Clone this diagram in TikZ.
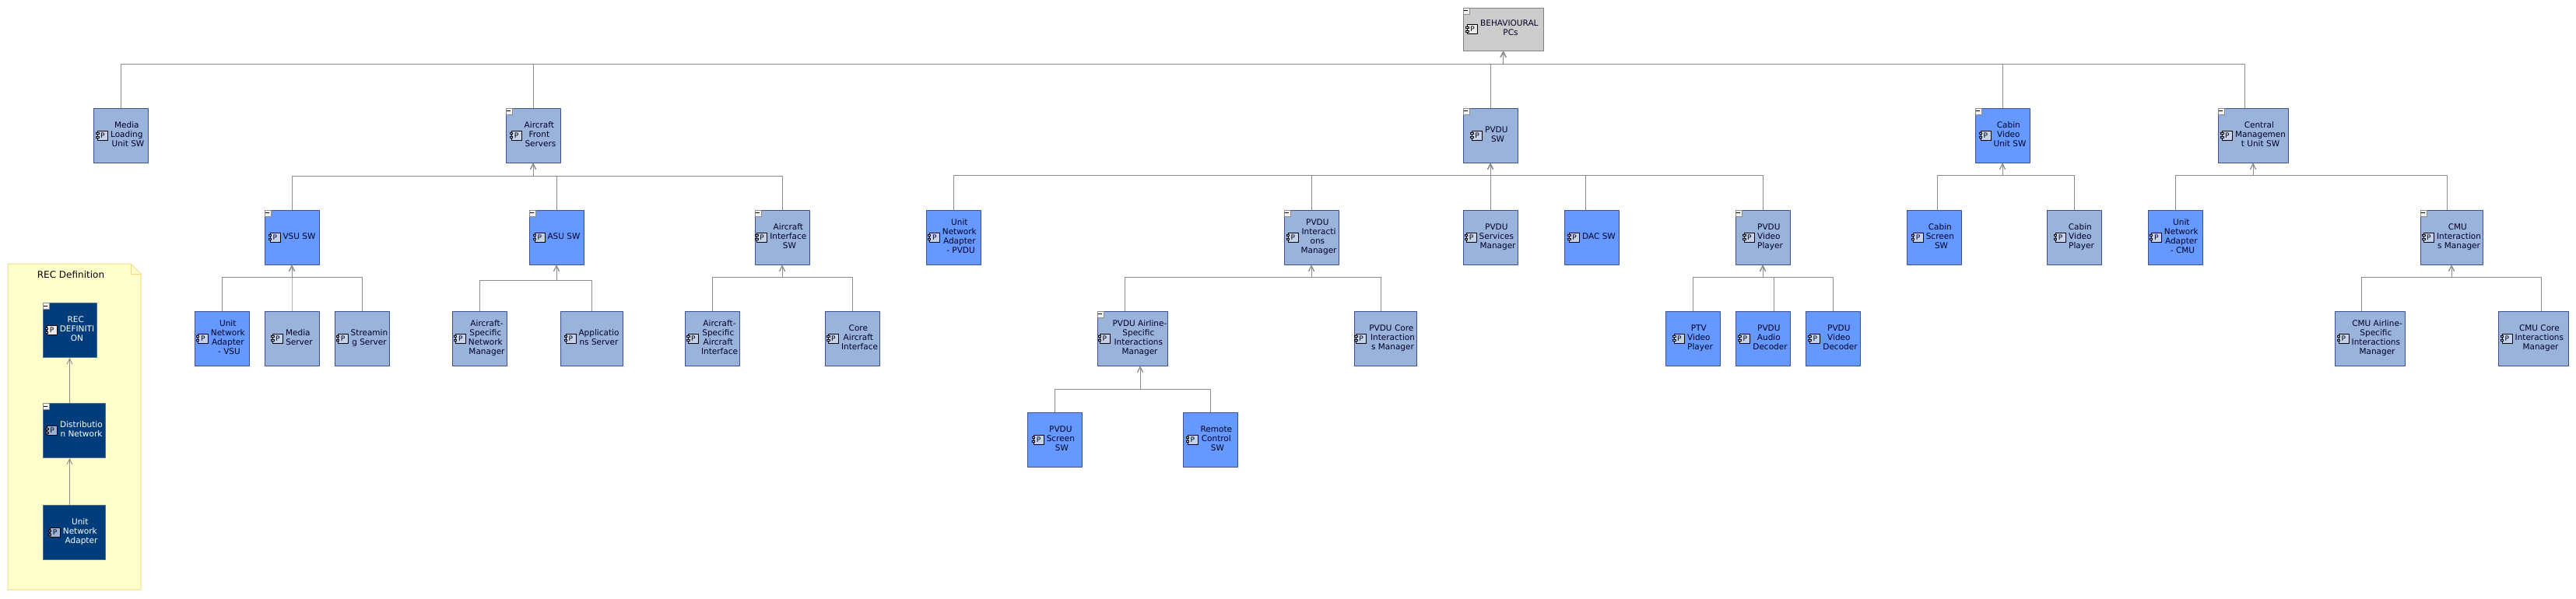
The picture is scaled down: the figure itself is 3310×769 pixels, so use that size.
\documentclass[tikz,border=0pt]{standalone}
\usepackage{fontspec}
\setmainfont{DejaVu Sans}
\usetikzlibrary{arrows.meta}

\definecolor{lightsw}{HTML}{99B3DB}
\definecolor{brightsw}{HTML}{6699FF}
\definecolor{recsw}{HTML}{003D7A}
\definecolor{swedge}{HTML}{3F4F8F}
\definecolor{recedge}{HTML}{4F6F8F}
\definecolor{linkgray}{HTML}{8C8C8C}
\definecolor{notefill}{HTML}{FFFFCC}
\definecolor{noteedge}{HTML}{F7D98C}
\definecolor{badgefill}{HTML}{C4D3EE}

\tikzset{
    box/.style={rectangle, draw, line width=1pt, inner sep=0pt, minimum width=70pt, minimum height=70pt,
        text=black!85!blue, font=\fontsize{10.5}{12}\selectfont},
    lightbox/.style={box, fill=lightsw, draw=swedge},
    brightbox/.style={box, fill=brightsw, draw=swedge},
    recbox/.style={box, fill=recsw, draw=recedge, text=white},
    graybox/.style={box, fill=black!20, draw=black!50},
    every edge/.style={draw=linkgray, line width=1pt},
    tree/.style={to path={(\tikztostart) |- (#1) -- (\tikztotarget)}},
    badge/.style={rectangle, draw=black, line width=.6pt, inner sep=0pt, minimum width=13pt, minimum height=12pt,
        anchor=west, text=black, font=\fontsize{9}{10}\selectfont},
    nub/.style={draw=black, line width=.5pt, inner sep=0pt, minimum width=3.5pt, minimum height=2pt},
    foldbtn/.style={rectangle, draw=black!45, fill=black!5, line width=.7pt, inner sep=0pt, minimum size=8pt,
        anchor=north west, path picture={\draw [black, line width=1pt]
            ([xshift=1.5pt]path picture bounding box.west) -- ([xshift=-1.5pt]path picture bounding box.east);}}
}

\newcommand{\lbl}[1]{\hspace*{19pt}\begin{tabular}{@{}c@{}}#1\end{tabular}}
\newcommand{\brk}{\ \null\\}
\newcommand{\pbadge}[2][badgefill]{%
    \node [badge, fill=#1] (#2-p) at ([xshift=2pt]#2.text |- #2.center) {P};
    \node [nub, fill=#1] (#2-a) at ([yshift=2.5pt]#2-p.west) {};
    \node [nub, fill=#1] (#2-b) at ([yshift=-2.5pt]#2-p.west) {};
}
\newcommand{\fold}[1]{\node [foldbtn] (#1-f) at (#1.north west) {};}

\begin{document}
\begin{tikzpicture}[x=1pt, y=-1pt, >={Straight Barb[length=7pt,width=7pt]}, line join=round]
    \useasboundingbox (0,0) rectangle (3310,769);

    % Nodes, top
    \node [graybox, minimum width=103pt, minimum height=55pt] (root) at (1931.5,37.5) {\lbl{BEHAVIOURAL\brk PCs}};

    % Nodes, first row
    \node [lightbox] (media) at (155,174) {\lbl{Media\brk Loading\brk Unit SW}};
    \node [lightbox] (afs) [node distance=530pt, right of=media] {\lbl{Aircraft\brk Front\brk Servers}};
    \node [lightbox] (pvdu) [node distance=1230pt, right of=afs] {\lbl{PVDU\brk SW}};
    \node [brightbox] (cabin) [node distance=658pt, right of=pvdu] {\lbl{Cabin\brk Video\brk Unit SW}};
    \node [lightbox, minimum width=90pt] (central) [node distance=322pt, right of=cabin] {\lbl{Central\brk Managemen\\t Unit SW}};

    % Nodes, second row
    \node [brightbox] (vsu) at (375,305) {\lbl{VSU SW}};
    \node [brightbox] (asu) [node distance=340pt, right of=vsu] {\lbl{ASU SW}};
    \node [lightbox] (aif) [node distance=290pt, right of=asu] {\lbl{Aircraft\brk Interface\brk SW}};
    \node [brightbox] (unapvdu) [node distance=220pt, right of=aif] {\lbl{Unit\brk Network\brk Adapter\brk - PVDU}};
    \node [lightbox] (pim) [node distance=460pt, right of=unapvdu] {\lbl{PVDU\brk Interacti\\ons\brk Manager}};
    \node [lightbox] (psm) [node distance=230pt, right of=pim] {\lbl{PVDU\brk Services\brk Manager}};
    \node [brightbox] (dac) [node distance=130pt, right of=psm] {\lbl{DAC SW}};
    \node [lightbox] (pvp) [node distance=220pt, right of=dac] {\lbl{PVDU\brk Video\brk Player}};
    \node [brightbox] (csc) [node distance=220pt, right of=pvp] {\lbl{Cabin\brk Screen\brk SW}};
    \node [lightbox] (cvp) [node distance=180pt, right of=csc] {\lbl{Cabin\brk Video\brk Player}};
    \node [brightbox] (unacmu) [node distance=130pt, right of=cvp] {\lbl{Unit\brk Network\brk Adapter\brk - CMU}};
    \node [lightbox, minimum width=80pt] (cim) [node distance=355pt, right of=unacmu] {\lbl{CMU\brk Interaction\\s Manager}};

    % Nodes, third row
    \node [brightbox] (unavsu) at (285,435) {\lbl{Unit\brk Network\brk Adapter\brk - VSU}};
    \node [lightbox] (mserv) [node distance=90pt, right of=unavsu] {\lbl{Media\brk Server}};
    \node [lightbox] (sserv) [node distance=90pt, right of=mserv] {\lbl{Streamin\\g Server}};
    \node [lightbox] (asnm) [node distance=151pt, right of=sserv] {\lbl{Aircraft-\\Specific\brk Network\brk Manager}};
    \node [lightbox, minimum width=80pt] (apps) [node distance=144pt, right of=asnm] {\lbl{Applicatio\\ns Server}};
    \node [lightbox] (asai) [node distance=155pt, right of=apps] {\lbl{Aircraft-\\Specific\brk Aircraft\brk Interface}};
    \node [lightbox] (cai) [node distance=180pt, right of=asai] {\lbl{Core\brk Aircraft\brk Interface}};
    \node [lightbox, minimum width=90pt] (pais) [node distance=360pt, right of=cai] {\lbl{PVDU Airline-\\Specific\brk Interactions\brk Manager}};
    \node [lightbox, minimum width=80pt] (pcim) [node distance=325pt, right of=pais] {\lbl{PVDU Core\brk Interaction\\s Manager}};
    \node [brightbox] (ptv) [node distance=395pt, right of=pcim] {\lbl{PTV\brk Video\brk Player}};
    \node [brightbox] (aud) [node distance=90pt, right of=ptv] {\lbl{PVDU\brk Audio\brk Decoder}};
    \node [brightbox] (dec) [node distance=90pt, right of=aud] {\lbl{PVDU\brk Video\brk Decoder}};
    \node [lightbox, minimum width=90pt] (cais) [node distance=690pt, right of=dec] {\lbl{CMU Airline-\\Specific\brk Interactions\brk Manager}};
    \node [lightbox, minimum width=90pt] (ccim) [node distance=210pt, right of=cais] {\lbl{CMU Core\brk Interactions\brk Manager}};

    % Nodes, fourth row
    \node [brightbox] (pss) at (1355,565) {\lbl{PVDU\brk Screen\brk SW}};
    \node [brightbox] (rcs) [node distance=200pt, right of=pss] {\lbl{Remote\brk Control\brk SW}};

    % Note with its nodes
    \draw [draw=noteedge, fill=notefill, line width=1pt] (10,339) -- (168,339) -- (181,352) -- (181,758) -- (10,758) -- cycle;
    \draw [draw=noteedge, line width=1pt] (168,339) -- (168,352) -- (181,352);
    \node [text=black, font=\fontsize{12}{14}\selectfont] (rectitle) at (91,353) {REC Definition};
    \node [recbox, minimum width=69pt] (rec) at (89.5,424.5) {\lbl{REC\brk DEFINITI\\ON}};
    \node [recbox, minimum width=80pt] (dist) at (95,553.5) {\lbl{Distributio\\n Network}};
    \node [recbox, minimum width=80pt] (una) at (95,684.5) {\lbl{Unit\brk Network\brk Adapter}};

    % Icons
    \pbadge[black!8]{root}
    \pbadge{media}
    \pbadge{afs}
    \pbadge{pvdu}
    \pbadge{cabin}
    \pbadge{central}
    \pbadge{vsu}
    \pbadge{asu}
    \pbadge{aif}
    \pbadge{unapvdu}
    \pbadge{pim}
    \pbadge{psm}
    \pbadge{dac}
    \pbadge{pvp}
    \pbadge{csc}
    \pbadge{cvp}
    \pbadge{unacmu}
    \pbadge{cim}
    \pbadge{unavsu}
    \pbadge{mserv}
    \pbadge{sserv}
    \pbadge{asnm}
    \pbadge{apps}
    \pbadge{asai}
    \pbadge{cai}
    \pbadge{pais}
    \pbadge{pcim}
    \pbadge{ptv}
    \pbadge{aud}
    \pbadge{dec}
    \pbadge{cais}
    \pbadge{ccim}
    \pbadge{pss}
    \pbadge{rcs}
    \pbadge[black!8]{rec}
    \pbadge[lightsw]{dist}
    \pbadge[lightsw]{una}

    % Collapse buttons
    \fold{root}
    \fold{afs}
    \fold{pvdu}
    \fold{cabin}
    \fold{central}
    \fold{vsu}
    \fold{asu}
    \fold{aif}
    \fold{pim}
    \fold{pvp}
    \fold{cim}
    \fold{pais}
    \fold{rec}
    \fold{dist}

    % Bus points
    \coordinate (busroot) at (1931.5,82);
    \coordinate (busafs) at (685,226);
    \coordinate (buspvdu) at (1915,225);
    \coordinate (buscabin) at (2573,225);
    \coordinate (buscentral) at (2895,225);
    \coordinate (busvsu) at (375,356);
    \coordinate (busasu) at (715,360);
    \coordinate (busaif) at (1005,356);
    \coordinate (buspim) at (1685,356);
    \coordinate (buspvp) at (2265,356);
    \coordinate (buscim) at (3150,356);
    \coordinate (buspais) at (1465,500);

    % Paths
    \path [->] (media.north) edge [tree=busroot] (root.south);
    \path [->] (afs.north) edge [tree=busroot] (root.south);
    \path [->] (pvdu.north) edge [tree=busroot] (root.south);
    \path [->] (cabin.north) edge [tree=busroot] (root.south);
    \path [->] ([xshift=-10.5pt]central.north) edge [tree=busroot] (root.south);

    \path [->] (vsu.north) edge [tree=busafs] (afs.south);
    \path [->] (asu.north) edge [tree=busafs] (afs.south);
    \path [->] (aif.north) edge [tree=busafs] (afs.south);

    \path [->] (unapvdu.north) edge [tree=buspvdu] (pvdu.south);
    \path [->] (pim.north) edge [tree=buspvdu] (pvdu.south);
    \path [->] (psm.north) edge [tree=buspvdu] (pvdu.south);
    \path [->] ([xshift=-7.5pt]dac.north) edge [tree=buspvdu] (pvdu.south);
    \path [->] (pvp.north) edge [tree=buspvdu] (pvdu.south);

    \path [->] ([xshift=4pt]csc.north) edge [tree=buscabin] (cabin.south);
    \path [->] (cvp.north) edge [tree=buscabin] (cabin.south);

    \path [->] (unacmu.north) edge [tree=buscentral] (central.south);
    \path [->] ([xshift=-5.5pt]cim.north) edge [tree=buscentral] (central.south);

    \path [->] (unavsu.north) edge [tree=busvsu] (vsu.south);
    \path [->] (mserv.north) edge [tree=busvsu] (vsu.south);
    \path [->] (sserv.north) edge [tree=busvsu] (vsu.south);

    \path [->] (asnm.north) edge [tree=busasu] (asu.south);
    \path [->] (apps.north) edge [tree=busasu] (asu.south);

    \path [->] (asai.north) edge [tree=busaif] (aif.south);
    \path [->] (cai.north) edge [tree=busaif] (aif.south);

    \path [->] ([xshift=-10pt]pais.north) edge [tree=buspim] (pim.south);
    \path [->] ([xshift=-6pt]pcim.north) edge [tree=buspim] (pim.south);

    \path [->] (ptv.north) edge [tree=buspvp] (pvp.south);
    \path [->] ([xshift=14pt]aud.north) edge [tree=buspvp] (pvp.south);
    \path [->] (dec.north) edge [tree=buspvp] (pvp.south);

    \path [->] ([xshift=-11pt]cais.north) edge [tree=buscim] (cim.south);
    \path [->] ([xshift=10pt]ccim.north) edge [tree=buscim] (cim.south);

    \path [->] (pss.north) edge [tree=buspais] ([xshift=10pt]pais.south);
    \path [->] (rcs.north) edge [tree=buspais] ([xshift=10pt]pais.south);

    \path [->] ([xshift=-5.5pt]dist.north) edge (rec.south);
    \path [->] ([xshift=-5.5pt]una.north) edge ([xshift=-5.5pt]dist.south);

\end{tikzpicture}
\end{document}
